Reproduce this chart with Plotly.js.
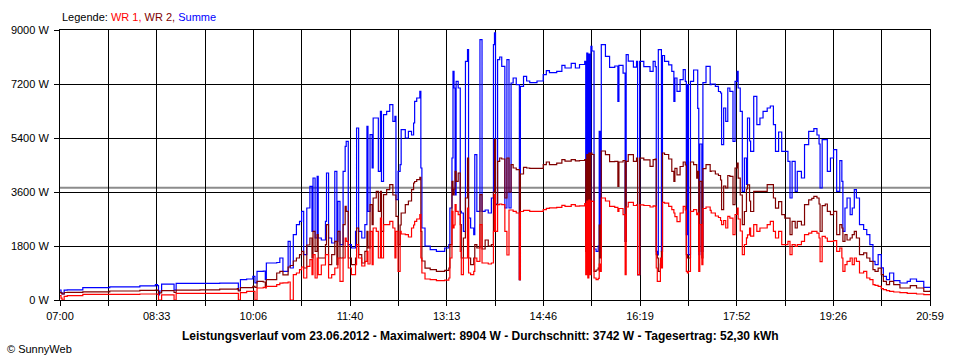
<!DOCTYPE html>
<html>
<head>
<meta charset="utf-8">
<script src="https://cdn.plot.ly/plotly-3.0.1.min.js"></script>
<style>
html,body{margin:0;padding:0;background:#fff;}
#chart{width:960px;height:360px;}
</style>
</head>
<body>
<div id="chart"></div>
<script>
// ---- data (time of day, watts) ----
const times = ["07:00","07:01","07:02","07:04","07:07","07:22","07:48","08:17","08:32","08:34","08:35","08:36","08:38","08:49","08:50","08:52","09:15","09:34","09:51","09:52","09:54",
"10:00","10:06","10:08","10:10","10:16","10:18","10:19","10:29","10:32","10:35","10:40","10:42","10:45","10:48","10:51","10:53","10:55","10:58",
"11:01","11:03","11:04","11:06","11:08","11:09","11:12","11:16","11:17","11:19","11:22","11:25","11:27","11:28","11:30","11:33","11:35","11:36","11:38","11:41","11:45","11:46","11:48","11:51","11:54","11:56","11:57","11:59",
"12:01","12:02","12:05","12:07","12:09","12:10","12:12","12:15","12:18","12:21","12:23","12:24","12:26","12:28","12:29","12:33","12:36","12:39","12:41","12:42","12:44","12:47","12:48","12:49","12:52","12:57",
"13:03","13:11","13:15","13:16","13:18","13:19","13:20","13:21","13:22","13:24","13:26","13:27","13:29","13:31","13:33","13:34","13:36","13:39","13:40","13:42","13:45","13:47","13:50","13:53","13:56","13:58","13:59",
"14:00","14:02","14:04","14:06","14:09","14:11","14:13","14:15","14:17","14:20","14:23","14:24","14:27","14:30","14:33","14:40","14:46","14:49","14:52","14:59",
"15:04","15:07","15:13","15:17","15:21","15:26","15:27","15:28","15:29","15:30","15:31","15:32","15:33","15:35","15:37","15:39","15:40","15:41","15:42","15:46","15:50","15:55","15:58","15:59",
"16:03","16:05","16:06","16:08","16:13","16:16","16:17","16:19","16:23","16:29","16:32","16:34","16:35","16:36","16:37","16:39","16:40","16:41","16:43","16:47","16:50","16:52","16:53","16:55","16:58",
"17:01","17:03","17:04","17:05","17:06","17:08","17:11","17:14","17:15","17:16","17:17","17:19","17:20","17:23","17:27","17:28","17:32","17:35","17:37","17:38","17:40","17:42","17:44","17:46","17:49","17:51","17:53","17:54","17:56","17:58",
"18:00","18:02","18:03","18:05","18:06","18:09","18:12","18:15","18:18","18:22","18:25","18:28","18:30","18:33","18:36","18:39","18:42","18:44","18:46","18:49","18:51","18:54","18:55","18:58",
"19:02","19:05","19:07","19:10","19:12","19:13","19:15","19:18","19:20","19:23","19:26","19:29","19:32","19:34","19:35","19:37","19:39","19:42","19:44","19:46","19:48","19:51","19:55","19:58",
"20:01","20:04","20:06","20:09","20:12","20:14","20:17","20:20","20:24","20:30","20:37","20:40","20:46","20:53","20:59"];

const summe = [333,250,200,330,340,410,440,470,510,480,170,300,530,530,330,556,556,560,560,330,680,
700,789,570,956,960,680,1233,1250,1400,956,1956,1067,2178,2511,2622,2955,1511,3067,
3789,2289,4067,2067,4122,2067,2000,2622,4233,2067,1900,4289,1956,3289,1844,4289,5122,5289,1844,1733,2289,5733,2289,2067,2511,5789,2955,5511,
4400,6067,6067,4289,6289,3956,6178,6289,6511,5956,6122,3344,4289,4511,5678,5400,5622,5500,5900,6622,6733,6956,4400,2400,1800,1678,
1622,1733,1844,3067,4733,7622,7067,3500,7289,7067,2956,2900,2289,7956,8344,2733,2400,2178,4844,2956,8678,2956,3000,2900,3400,8511,8904,
3200,8011,8100,7789,3067,8011,3067,7233,7400,7178,678,7122,7456,7300,7244,7300,7511,7644,7580,7622,
7822,7733,7889,7733,7850,7956,2000,8233,2067,8200,1900,8456,8300,1700,1622,1800,5622,1622,8511,8122,7756,7800,6622,7820,
7560,1956,8178,7960,7760,7956,844,7956,7780,7622,7956,7780,1622,1500,8344,8344,1622,8150,7956,7840,7622,6622,7400,6956,7344,
7678,7289,2178,7178,1511,7289,7667,7667,6389,1511,5200,1622,7244,7789,7178,7200,7122,6950,6900,5178,6400,5956,7067,6956,5289,7289,7622,7067,6289,3622,
4733,3850,6067,5300,4956,6789,5844,6067,6289,6400,6467,5844,4956,5600,4956,4956,4622,3400,4622,3622,4289,4289,4067,5178,
5622,5622,5711,5500,5200,3733,5344,5344,4289,4733,5011,3622,4644,3956,2289,3067,3400,2844,3067,3678,3400,2511,2350,2178,
1844,1290,1178,1511,1070,789,678,900,644,567,622,700,622,422,420];

const wr2 = [256,230,200,250,255,270,300,320,333,320,230,240,310,310,250,330,340,360,380,300,410,
410,456,420,622,600,456,678,900,956,840,1100,1150,1300,1400,1511,1622,1067,1833,
2067,1400,2289,1622,2178,1400,1400,1844,2511,1178,1511,1956,1178,2289,1400,2511,3122,2956,1400,1178,1400,2400,1511,1233,1622,2289,1733,3178,
2511,3400,3622,2956,3622,2289,3511,3678,3844,3500,3500,2789,1844,2500,2900,3178,3300,3678,3900,3950,4011,4089,2289,1300,1060,1011,
956,990,1067,1844,3956,3500,3700,4289,3956,4233,2511,1400,2067,3400,4733,1400,1178,1400,1844,1733,3511,1700,2000,1800,1844,3600,5344,
3178,4622,4733,4700,3400,4733,3600,4511,4400,4344,678,4200,4422,4400,4390,4390,4511,4600,4510,4560,
4678,4630,4678,4640,4650,4680,1622,4844,1400,4900,1400,4900,4850,956,1000,1060,2500,1400,4967,4844,4611,4620,3789,4600,
4650,1956,4620,4844,4620,4730,844,4730,4670,4456,4680,4700,1511,1400,956,1200,1622,4900,4850,4700,4289,3956,4390,4170,4450,
4600,4500,1511,1400,1400,4600,4511,4060,4289,1622,3956,1400,4380,4511,4289,4300,4200,4150,4000,3011,3800,3733,4150,4120,3178,4400,4567,4060,3500,2511,
2950,3700,3840,3300,2950,3622,3622,3622,3622,3844,3844,3400,3060,3280,2844,2730,2730,2178,2620,2400,2620,2620,2500,3180,
3340,3390,3456,3400,3200,2289,3144,3200,2956,2844,2956,2178,2511,2400,1956,2178,2000,2067,2178,2289,2067,1511,1570,1400,
1290,1011,956,1060,844,622,511,622,511,400,400,478,400,289,320];

const wr1 = [144,60,0,120,144,190,190,200,200,190,0,0,170,170,0,222,222,222,222,0,244,
290,289,0,400,420,400,456,511,560,570,600,0,844,900,1011,1100,733,1122,
1344,844,1511,733,1400,844,1167,1511,1511,733,844,1067,1067,1400,622,1400,2067,1956,1067,844,1178,1844,1400,1133,1289,1622,1200,2289,
1178,2400,2289,1400,2733,1400,2511,2511,2622,2400,1400,2289,956,2289,2200,2178,2100,2400,2500,2622,2700,2844,1400,900,700,678,
644,660,733,1400,2956,2400,2500,3178,2956,2844,1622,844,1400,1400,3067,900,844,956,1400,1289,2511,1233,1233,1200,1233,2289,3511,
2289,3178,3200,3180,2289,1500,3000,3000,2956,2900,678,2950,2990,2990,2956,2956,3010,3056,3070,3089,
3156,3120,3180,3130,3140,3211,844,3300,733,3333,844,3300,3290,733,678,720,1200,956,3400,3300,3122,3090,2950,3050,
2844,844,3100,3256,3150,3170,844,3170,3150,3100,3140,3120,1067,622,622,1400,1067,3256,3230,3120,3010,2900,2778,2611,2900,
3122,3000,956,900,956,2956,3010,2844,2900,956,2511,1178,3050,3100,2990,2900,2800,2750,2650,2511,2650,2400,2790,2730,2178,2850,3067,2700,2300,1511,
1850,2070,2170,2400,2130,2511,2290,2400,2400,2511,2622,2290,2067,2290,1844,1844,1956,1511,1844,1790,1844,1844,1956,2178,
2230,2290,2289,2230,2067,1278,2120,2067,1956,1956,1980,1622,1733,1400,956,1178,1289,1400,1180,1400,1289,900,956,733,
678,511,489,456,378,344,311,289,267,244,222,222,200,178,156];

const xTickLabels = ["07:00","08:33","10:06","11:40","13:13","14:46","16:19","17:52","19:26","20:59"];
const yTickValues = [0,1800,3600,5400,7200,9000];
const average = 3742;
const dayStart = "07:00";
const dayEnd = "20:59";
const titleText = "Leistungsverlauf vom 23.06.2012 - Maximalwert: 8904 W - Durchschnitt: 3742 W - Tagesertrag: 52,30 kWh";

// ---- helpers ----
const toMin = s => { const p = s.split(":").map(Number); return p[0]*60 + p[1]; };
const start = toMin(dayStart), end = toMin(dayEnd);
const span = end - start;
const x = times.map(t => toMin(t) - start);
const FONT = "Liberation Sans, Arial, sans-serif";

const line = (y, color, name) => ({
  x: x, y: y, type: "scatter", mode: "lines", name: name,
  line: {color: color, width: 1.2, shape: "hv"}, hoverinfo: "skip"
});

const traces = [
  line(summe, "#0000ff", "Summe"),
  line(wr2, "#800000", "WR 2"),
  line(wr1, "#ff0000", "WR 1")
];

const majorVals = xTickLabels.map((_, i) => i * span / (xTickLabels.length - 1));

const layout = {
  width: 960, height: 360,
  margin: {l: 60, r: 30, t: 30, b: 60, pad: 0},
  paper_bgcolor: "#ffffff", plot_bgcolor: "#ffffff",
  showlegend: false,
  font: {family: FONT, size: 11, color: "#000"},
  xaxis: {
    range: [0, span], tickmode: "array", tickvals: majorVals, ticktext: xTickLabels,
    ticks: "outside", ticklen: 5, tickcolor: "#000", tickwidth: 1, ticklabelstandoff: 1,
    showgrid: true, gridcolor: "#000", gridwidth: 1,
    showline: true, linecolor: "#000", linewidth: 1, mirror: true, zeroline: false,
    tickfont: {family: FONT, size: 11, color: "#000"},
    minor: {tickmode: "linear", tick0: 0, dtick: span / 18, ticks: "outside", ticklen: 5,
            tickcolor: "#000", showgrid: true, gridcolor: "#000", gridwidth: 1},
    fixedrange: true
  },
  yaxis: {
    range: [0, 9000], tickmode: "array", tickvals: yTickValues,
    ticktext: yTickValues.map(v => v + " W"),
    ticks: "outside", ticklen: 5, tickcolor: "#000", tickwidth: 1, ticklabelstandoff: 3,
    showgrid: true, gridcolor: "#000", gridwidth: 1,
    showline: true, linecolor: "#000", linewidth: 1, mirror: true, zeroline: false,
    tickfont: {family: FONT, size: 11, color: "#000"},
    fixedrange: true
  },
  shapes: [{
    type: "line", xref: "paper", x0: 0, x1: 1, yref: "y", y0: average, y1: average,
    line: {color: "#8c8c8c", width: 2}, layer: "between"
  }],
  annotations: [
    {xref: "paper", yref: "paper", x: 0, y: 1.048, xanchor: "left", yanchor: "middle", showarrow: false,
     text: 'Legende: <span style="color:#ff0000">WR 1,</span> <span style="color:#800000">WR 2,</span> <span style="color:#0000ff">Summe</span>',
     font: {family: FONT, size: 11, color: "#000"}},
    {xref: "paper", yref: "paper", x: 0.4828, y: -0.133, xanchor: "center", yanchor: "middle", showarrow: false,
     text: "<b>" + titleText + "</b>", font: {family: FONT, size: 12, color: "#000"}},
    {xref: "paper", yref: "paper", x: -0.063, y: -0.1815, xanchor: "left", yanchor: "middle", showarrow: false,
     text: "© SunnyWeb", font: {family: FONT, size: 11, color: "#000"}}
  ]
};

Plotly.newPlot("chart", traces, layout, {displayModeBar: false, staticPlot: true});
</script>
</body>
</html>
